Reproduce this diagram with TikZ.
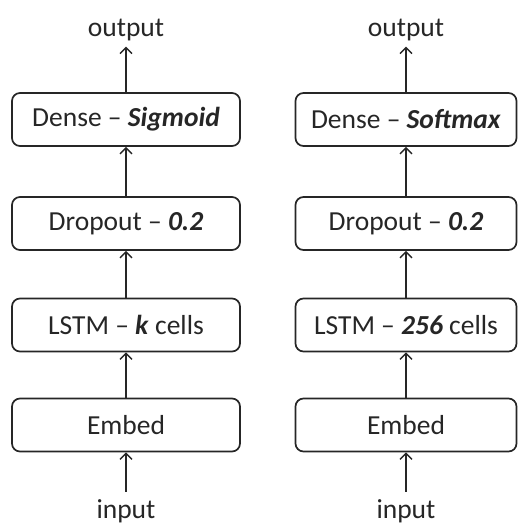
\documentclass[tikz,border=0pt]{standalone}
\usepackage{fontspec}
\setmainfont{Carlito}
\usetikzlibrary{arrows.meta}
\begin{document}
\begin{tikzpicture}[x=1pt,y=-1pt,
  layer/.style={draw=black!85, rounded corners=8pt, line width=1.7pt,
    minimum height=53pt, inner sep=0pt, font=\fontsize{27.5}{32}\selectfont, text=black!85},
  lbl/.style={inner sep=0pt, font=\fontsize{27.5}{32}\selectfont, text=black!85},
  flow/.style={draw=black!85, line width=1.5pt,
    -{Straight Barb[length=6pt,width=12pt,line width=1.4pt]}}]
\useasboundingbox (0,0) rectangle (517,525);

% sigmoid network
\node[lbl, anchor=base] (outA) at (126,36) {output};
\node[layer, minimum width=228pt] (denseA) at (126,119.5) {Dense -- \textbf{\textit{Sigmoid}}};
\node[layer, minimum width=228pt] (dropA)  at (126,223.5) {Dropout -- \textbf{\textit{0.2}}};
\node[layer, minimum width=228pt] (lstmA)  at (126,325)   {LSTM -- \textbf{\textit{k}} cells};
\node[layer, minimum width=228pt] (embA)   at (126,425)   {Embed};
\node[lbl, anchor=base] (inA) at (126,518) {input};

% softmax network
\node[lbl, anchor=base] (outB) at (406,36) {output};
\node[layer, minimum width=221pt] (denseB) at (406,119.5) {Dense -- \textbf{\textit{Softmax}}};
\node[layer, minimum width=221pt] (dropB)  at (406,223.5) {Dropout -- \textbf{\textit{0.2}}};
\node[layer, minimum width=221pt] (lstmB)  at (406,325)   {LSTM -- \textbf{\textit{256}} cells};
\node[layer, minimum width=221pt] (embB)   at (406,425)   {Embed};
\node[lbl, anchor=base] (inB) at (406,518) {input};

% data flow
\foreach \s in {A,B}{
  \draw[flow] (in\s.north) ++(0,-7) -- (emb\s.south);
  \draw[flow] (emb\s) -- (lstm\s);
  \draw[flow] (lstm\s) -- (drop\s);
  \draw[flow] (drop\s) -- (dense\s);
  \draw[flow] (dense\s.north) -- ([yshift=-6pt]out\s.south);
}
\end{tikzpicture}
\end{document}
